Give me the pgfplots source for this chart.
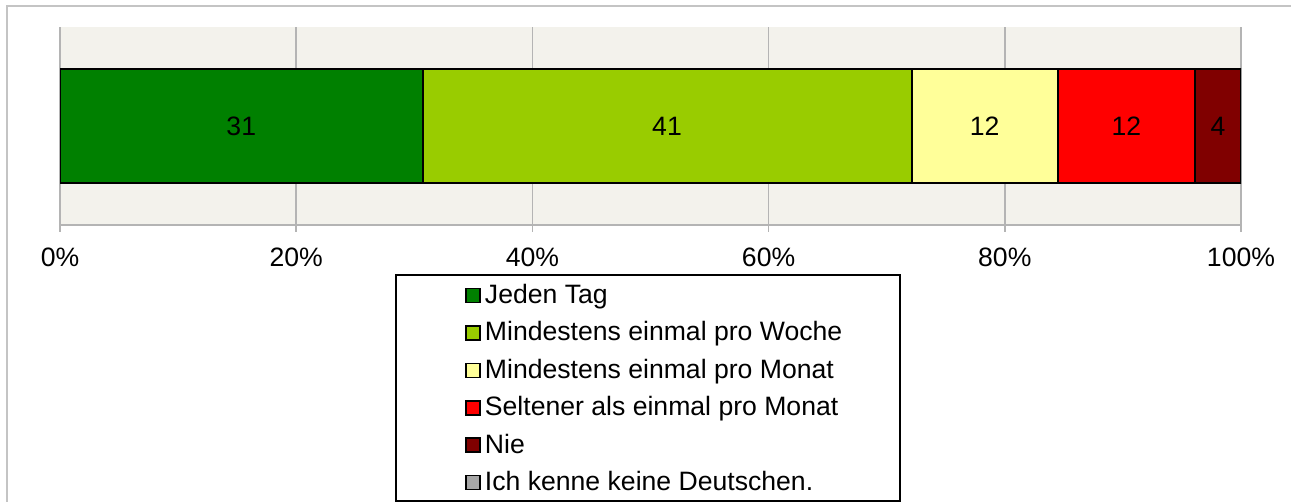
\documentclass[border=0pt,12pt]{standalone}
\usepackage{fontspec}
\setmainfont{Liberation Sans}
\usepackage{pgfplots}
\pgfplotsset{compat=1.18}
\definecolor{cTag}{HTML}{008000}
\definecolor{cWoche}{HTML}{99CC00}
\definecolor{cMonat}{HTML}{FFFF99}
\definecolor{cSelten}{HTML}{FF0000}
\definecolor{cNie}{HTML}{800000}
\definecolor{cKeine}{HTML}{A6A6A6}
\definecolor{bgplot}{HTML}{F3F2EC}
\definecolor{gridgray}{HTML}{B4B4B4}
\definecolor{framegray}{HTML}{C4C4C4}
\pgfplotsset{
  sq/.style={legend image code/.code={%
    \draw[fill=#1,draw=black,line width=0.8pt] (0pt,0.4pt) rectangle (7pt,7.4pt);}},
}
\begin{document}
\begin{tikzpicture}[font=\fontsize{13.3pt}{16pt}\selectfont]
\useasboundingbox (0,0) rectangle (645.5pt,251pt);
\draw[framegray,line width=1pt] (3.5pt,0) -- (3.5pt,248pt) -- (645.5pt,248pt);
\begin{axis}[at={(30pt,138.5pt)},anchor=south west,scale only axis,
  width=590.5pt,height=99pt,
  font=\fontsize{13.3pt}{16pt}\selectfont,
  xbar stacked,bar width=57pt,
  xmin=0,xmax=100,ymin=-1,ymax=1,
  axis x line*=bottom,axis y line*=none,ytick=\empty,
  axis line style={gridgray,line width=0.8pt},
  xmajorgrids,grid style={gridgray,line width=0.8pt},
  axis background/.style={fill=bgplot},
  xtick={0,20,...,100},
  xticklabel={\pgfmathprintnumber{\tick}\%},
  /pgf/number format/assume math mode=true,
  tick align=outside,major tick length=3.5pt,
  tick style={gridgray,line width=0.8pt},
  xticklabel style={yshift=-4pt},
  point meta=explicit symbolic,
  nodes near coords,
  every node near coord/.append style={black},
  legend style={at={(0.3429,-0.293)},anchor=north west,draw=none,fill=none,
    inner sep=0pt,row sep=5.4pt,column sep=2pt,
    nodes={inner sep=0pt,text height=10pt,text depth=3.3pt,anchor=base west}},
  legend cell align=left,
]
\addplot[fill=cTag,draw=black,line width=1pt,sq=cTag] coordinates {(30.7,0) [31]};
\addlegendentry{Jeden Tag}
\addplot[fill=cWoche,draw=black,line width=1pt,sq=cWoche] coordinates {(41.4,0) [41]};
\addlegendentry{Mindestens einmal pro Woche}
\addplot[fill=cMonat,draw=black,line width=1pt,sq=cMonat] coordinates {(12.4,0) [12]};
\addlegendentry{Mindestens einmal pro Monat}
\addplot[fill=cSelten,draw=black,line width=1pt,sq=cSelten] coordinates {(11.6,0) [12]};
\addlegendentry{Seltener als einmal pro Monat}
\addplot[fill=cNie,draw=black,line width=1pt,sq=cNie] coordinates {(3.9,0) [4]};
\addlegendentry{Nie}
\addlegendimage{sq=cKeine}
\addlegendentry{Ich kenne keine Deutschen.}
\end{axis}
\draw[black,line width=0.8pt] (198pt,0.5pt) rectangle (450pt,113.5pt);
\end{tikzpicture}
\end{document}
